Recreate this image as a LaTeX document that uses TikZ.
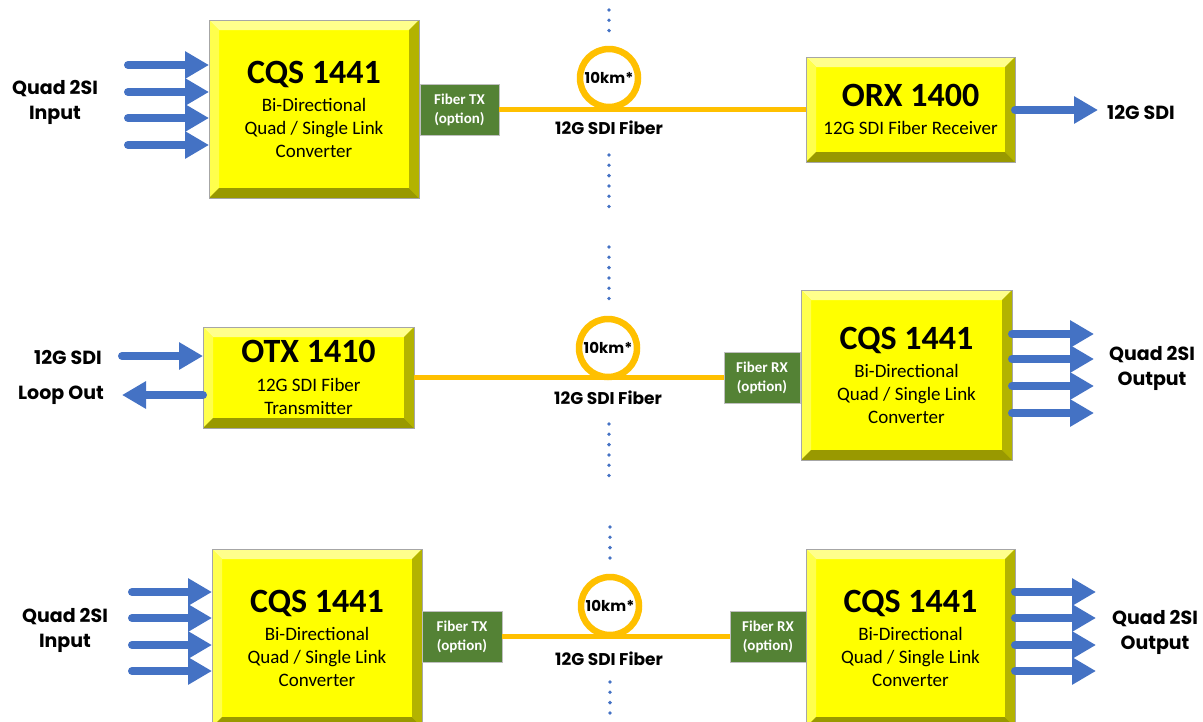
\documentclass[tikz,border=0pt]{standalone}
\usepackage{fontspec}
\setmainfont{Carlito}
\newfontfamily\lblfont{Poppins}
\usetikzlibrary{arrows.meta,calc}
\definecolor{ablue}{HTML}{4472C4}
\definecolor{fibor}{HTML}{FFC000}
\definecolor{modgreen}{HTML}{548235}
\definecolor{yface}{HTML}{FFFF00}
\definecolor{ytop}{HTML}{FFFF8C}
\definecolor{yleft}{HTML}{FFFF4D}
\definecolor{yright}{HTML}{B3B300}
\definecolor{ybot}{HTML}{999900}
\definecolor{dotblue}{HTML}{4472C4}
\newcommand\boxttl[1]{{\fontsize{34}{34}\selectfont\bfseries #1}}
\begin{document}
\begin{tikzpicture}[x=1pt,y=-1pt,
  bevelbox/.style={draw=black!35, line width=0.6pt, fill=yface, inner sep=0pt, outer sep=0pt, align=center,
    font=\fontsize{19}{23}\selectfont,
    path picture={
      \coordinate (pnw) at (path picture bounding box.north west);
      \coordinate (pse) at (path picture bounding box.south east);
      \coordinate (pne) at (pnw -| pse);
      \coordinate (psw) at (pse -| pnw);
      \coordinate (inw) at ($(pnw)+(10pt,-10pt)$);
      \coordinate (ine) at ($(pne)+(-10pt,-10pt)$);
      \coordinate (ise) at ($(pse)+(-10pt,10pt)$);
      \coordinate (isw) at ($(psw)+(10pt,10pt)$);
      \fill[ytop] (pnw) -- (pne) -- (ine) -- (inw) -- cycle;
      \fill[yleft] (pnw) -- (inw) -- (isw) -- (psw) -- cycle;
      \fill[yright] (pne) -- (pse) -- (ise) -- (ine) -- cycle;
      \fill[ybot] (psw) -- (isw) -- (ise) -- (pse) -- cycle;
    }},
  module/.style={fill=modgreen, draw=black!25, line width=0.6pt, text=white, align=center,
    font=\bfseries\fontsize{15}{19}\selectfont, inner sep=0pt, outer sep=0pt,
    minimum width=#1, minimum height=51pt},
  lbl/.style={font=\lblfont\bfseries\fontsize{19}{25}\selectfont, align=center, inner sep=0pt},
  ring/.style={circle, draw=fibor, line width=6.5pt, minimum size=58pt, inner sep=0pt,
    font=\lblfont\bfseries\fontsize{15}{15}\selectfont},
  fibtxt/.style={font=\lblfont\bfseries\fontsize{17}{17}\selectfont, inner sep=0pt},
  fiber/.style={draw=fibor, line width=5.5pt},
  dots/.style={draw=dotblue, line width=3.8pt, line cap=round, dash pattern=on 0pt off 10.3pt},
  sigarrow/.style={draw=ablue, line width=8pt, line cap=round, -{Triangle[length=24pt,width=26pt]}}
]
\useasboundingbox (0,0) rectangle (1203,721);

% ---------------- Row 1 ----------------
\node[bevelbox, minimum width=210pt, minimum height=178pt] (cqsA) at (314,109)
  {\boxttl{CQS 1441}\\[5pt]Bi-Directional\\Quad / Single Link\\Converter};
\node[module=79pt] (txA) at (459.5,109.5) {Fiber TX\\(option)};
\node[bevelbox, minimum width=209pt, minimum height=105pt] (orx) at (910.5,109.5)
  {\boxttl{ORX 1400}\\[5pt]12G SDI Fiber Receiver};
\draw[fiber] (txA.east) -- (orx.west);
\node[ring] (ringA) at (609,78) {10km*};
\node[fibtxt] (fibA) at (609,128) {12G SDI Fiber};
\coordinate (dA1) at (609,10); \coordinate (dA2) at (609,31);
\coordinate (dA3) at (609,155); \coordinate (dA4) at (609,207);
\draw[dots] (dA1) -- (dA2);
\draw[dots] (dA3) -- (dA4);
\foreach \i/\yy in {1/65,2/92,3/118,4/145}{
  \coordinate (inA\i) at (128,\yy);
  \draw[sigarrow] (inA\i) -- (inA\i -| cqsA.west);
}
\coordinate (outA) at (1098,110);
\draw[sigarrow] (orx.east |- outA) -- (outA);
\node[lbl] (lblA1) at (55,102) {Quad 2SI\\Input};
\node[lbl] (lblA2) at (1141,112) {12G SDI};

% ---------------- Row 2 ----------------
\node[bevelbox, minimum width=211pt, minimum height=101pt] (otx) at (308.5,377.5)
  {\boxttl{OTX 1410}\\[6pt]12G SDI Fiber\\Transmitter};
\node[module=76pt] (rxB) at (762,377.5) {Fiber RX\\(option)};
\node[bevelbox, minimum width=211pt, minimum height=170pt] (cqsB) at (906.5,375)
  {\boxttl{CQS 1441}\\[5pt]Bi-Directional\\Quad / Single Link\\Converter};
\draw[fiber] (otx.east) -- (rxB.west);
\node[ring] (ringB) at (608,348) {10km*};
\node[fibtxt] (fibB) at (608,398) {12G SDI Fiber};
\coordinate (dB1) at (609,247); \coordinate (dB2) at (609,307);
\coordinate (dB3) at (609,424); \coordinate (dB4) at (609,484);
\draw[dots] (dB1) -- (dB2);
\draw[dots] (dB3) -- (dB4);
\coordinate (sdiB) at (122,356);
\draw[sigarrow] (sdiB) -- (sdiB -| otx.west);
\coordinate (loopB) at (122,395);
\draw[sigarrow] (loopB -| otx.west) -- (loopB);
\foreach \i/\yy in {1/334,2/359,3/386,4/413}{
  \coordinate (outB\i) at (1094,\yy);
  \draw[sigarrow] (outB\i -| cqsB.east) -- (outB\i);
}
\node[lbl] (lblB1) at (68,357) {12G SDI};
\node[lbl] (lblB2) at (61,395) {Loop Out};
\node[lbl] (lblB3) at (1152,368) {Quad 2SI\\Output};

% ---------------- Row 3 ----------------
\node[bevelbox, minimum width=210pt, minimum height=178pt] (cqsC) at (317,638)
  {\boxttl{CQS 1441}\\[5pt]Bi-Directional\\Quad / Single Link\\Converter};
\node[module=80pt] (txC) at (462,636.5) {Fiber TX\\(option)};
\node[module=76pt] (rxC) at (768,636.5) {Fiber RX\\(option)};
\node[bevelbox, minimum width=209pt, minimum height=178pt] (cqsD) at (910.5,638)
  {\boxttl{CQS 1441}\\[5pt]Bi-Directional\\Quad / Single Link\\Converter};
\draw[fiber] (txC.east) -- (rxC.west);
\node[ring] (ringC) at (610,606) {10km*};
\node[fibtxt] (fibC) at (609,659) {12G SDI Fiber};
\coordinate (dC1) at (610,527); \coordinate (dC2) at (610,559);
\coordinate (dC3) at (610,682); \coordinate (dC4) at (610,722);
\draw[dots] (dC1) -- (dC2);
\draw[dots] (dC3) -- (dC4);
\foreach \i/\yy in {1/592,2/618,3/645,4/671}{
  \coordinate (inC\i) at (132,\yy);
  \draw[sigarrow] (inC\i) -- (inC\i -| cqsC.west);
  \coordinate (outC\i) at (1096,\yy);
  \draw[sigarrow] (outC\i -| cqsD.east) -- (outC\i);
}
\node[lbl] (lblC1) at (65,630) {Quad 2SI\\Input};
\node[lbl] (lblC2) at (1155,632) {Quad 2SI\\Output};
\end{tikzpicture}
\end{document}
